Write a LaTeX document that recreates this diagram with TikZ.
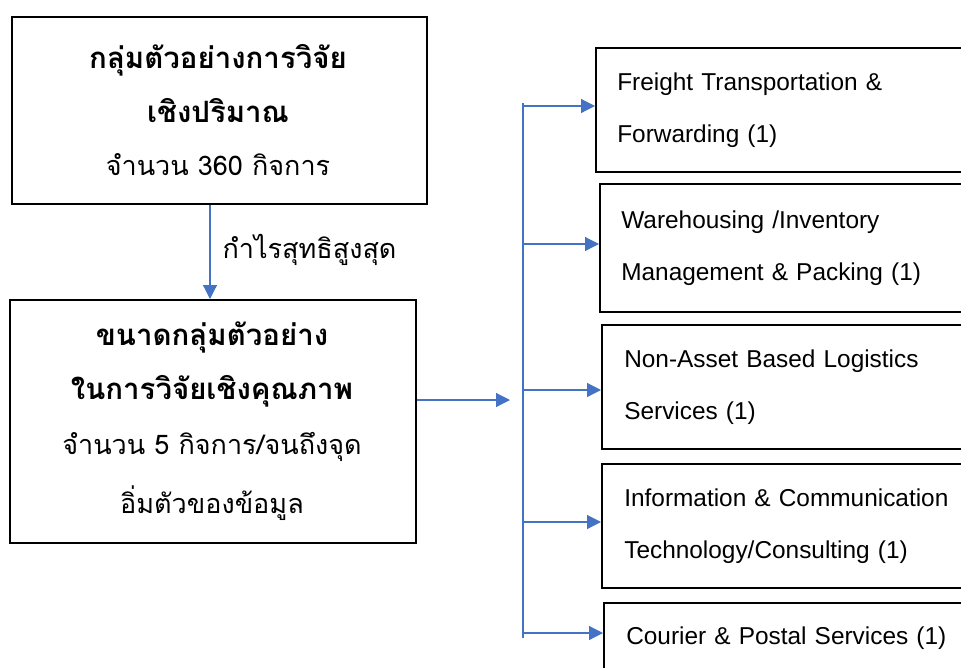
\documentclass[tikz,border=0pt]{standalone}
\usepackage{fontspec}
\setmainfont{Liberation Sans}
\newfontfamily\thaifont[Script=Thai]{Loma}
\usetikzlibrary{arrows.meta}
\definecolor{arrblue}{HTML}{4472C4}
\tikzset{
  box/.style={draw=black, line width=1.6pt, rectangle, inner sep=0pt},
  catbox/.style={box, anchor=north west, minimum width=400pt, text width=357pt, align=left,
     font=\fontsize{24.4}{52}\selectfont},
  arr/.style={draw=arrblue, line width=1.2pt, -{Triangle[length=14pt,width=14pt]}},
  spine/.style={draw=arrblue, line width=1.2pt},
  thb/.style={font=\thaifont\bfseries\fontsize{29.4}{30}\selectfont},
  thr/.style={font=\thaifont\fontsize{27}{30}\selectfont},
}
\begin{document}
\begin{tikzpicture}[x=1pt,y=-1pt]
\useasboundingbox (0,0) rectangle (961,667);
\clip (0,0) rectangle (961,667);
% left boxes
\node[box, anchor=north west, minimum width=415pt, minimum height=187pt] (A) at (11,16) {};
\node[thb] (a1) at (218,60) {กลุ่มตัวอย่างการวิจัย};
\node[thb] (a2) at (218,111) {เชิงปริมาณ};
\node[thr] (a3) at (218,165) {จำนวน 360 กิจการ};

\node[box, anchor=north west, minimum width=406pt, minimum height=243pt] (B) at (9,299) {};
\node[thb] (b1) at (212,337) {ขนาดกลุ่มตัวอย่าง};
\node[thb] (b2) at (212,391) {ในการวิจัยเชิงคุณภาพ};
\node[thr] (b3) at (212,447) {จำนวน 5 กิจการ/จนถึงจุด};
\node[thr] (b4) at (212,503) {อิ่มตัวของข้อมูล};

\coordinate (ab) at (210,0);
\draw[arr] (A.south -| ab) -- (B.north -| ab);
\node[thr, anchor=west] (lbl) at (219,250) {กำไรสุทธิสูงสุด};

% right boxes
\node[catbox, minimum height=124pt, inner xsep=21pt] (r1) at (595,47) {Freight Transportation \&\\Forwarding (1)};
\node[catbox, minimum height=128pt, inner xsep=21pt] (r2) at (599,183) {Warehousing /Inventory\\Management \& Packing (1)};
\node[catbox, minimum height=124pt, inner xsep=22pt, text width=355pt] (r3) at (601,324) {Non-Asset Based Logistics\\Services (1)};
\node[catbox, minimum height=124pt, inner xsep=22pt, text width=355pt] (r4) at (601,463) {Information \& Communication\\Technology/Consulting (1)};
\node[catbox, minimum height=70pt, inner xsep=22pt, text width=355pt] (r5) at (603,602) {Courier \& Postal Services (1)};

% connectors
\coordinate (hub) at (510,400);
\draw[arr] (B.east |- hub) -- (hub);
\coordinate (top) at (523,103);
\coordinate (bot) at (523,638);
\draw[spine] (top) -- (bot);
\coordinate (s1) at (523,106);
\coordinate (s2) at (523,244);
\coordinate (s3) at (523,390);
\coordinate (s4) at (523,522);
\coordinate (s5) at (523,633);
\draw[arr] (s1) -- (s1 -| r1.west);
\draw[arr] (s2) -- (s2 -| r2.west);
\draw[arr] (s3) -- (s3 -| r3.west);
\draw[arr] (s4) -- (s4 -| r4.west);
\draw[arr] (s5) -- (s5 -| r5.west);
\end{tikzpicture}
\end{document}
